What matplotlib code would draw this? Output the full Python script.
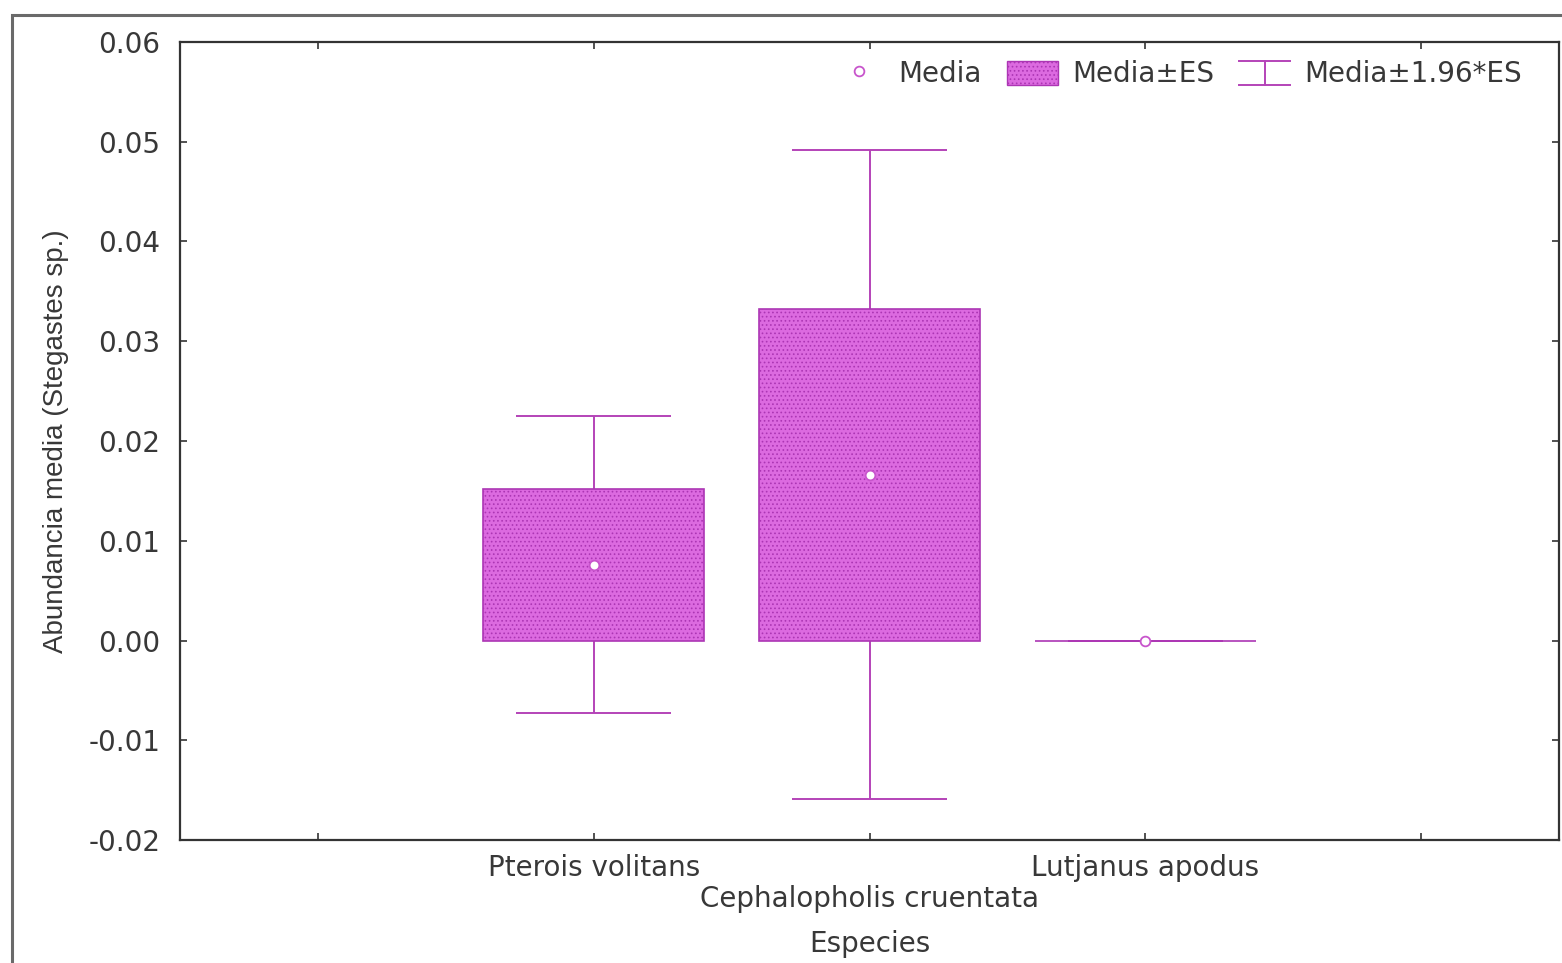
import matplotlib
matplotlib.use("Agg")
import matplotlib.pyplot as plt
import numpy as np
from matplotlib.patches import Rectangle, Patch
from matplotlib.lines import Line2D
from matplotlib.legend_handler import HandlerBase

# Species and their mean abundance with standard error
species = ["Pterois volitans", "Cephalopholis cruentata", "Lutjanus apodus"]
means = [0.0076, 0.0166, 0.0]
se = [0.0076, 0.0166, 0.0]
z_factor = 1.96

y_ticks = [-0.02, -0.01, 0.00, 0.01, 0.02, 0.03, 0.04, 0.05, 0.06]
y_ticklabels = ["-0.02", "-0.01", "0.00", "0.01", "0.02", "0.03", "0.04", "0.05", "0.06"]

TEXT = "#383838"
FILL = "#dc6ae0"
EDGE = "#ac36b4"
WHISK = "#b443b8"
MARK = "#c855cc"

plt.rcParams["font.family"] = ["DejaVu Sans"]
plt.rcParams["hatch.color"] = "#f6caf6"
plt.rcParams["hatch.linewidth"] = 0.7


class IBeamHandler(HandlerBase):
    def create_artists(self, legend, orig_handle, xdescent, ydescent,
                       width, height, fontsize, trans):
        x0, x1 = -xdescent, -xdescent + width
        y0, y1 = -ydescent, -ydescent + height
        xm = 0.5 * (x0 + x1)
        arts = []
        for xs, ys in (([x0, x1], [y1, y1]), ([xm, xm], [y0, y1]), ([x0, x1], [y0, y0])):
            ln = Line2D(xs, ys, color=WHISK, lw=1.4)
            ln.set_transform(trans)
            arts.append(ln)
        return arts


fig = plt.figure(figsize=(15.62, 9.63), dpi=100)
ax = fig.add_axes([180 / 1562, 1 - 840 / 963, (1559 - 180) / 1562, (840 - 42) / 963])

x = np.arange(1, len(species) + 1)
m = np.array(means)
s = np.array(se)
lo = m - z_factor * s
hi = m + z_factor * s

# whiskers (mean ± 1.96*SE)
ax.vlines(x, lo, hi, color=WHISK, lw=1.4, zorder=2)
cap = 0.28
ax.hlines(lo, x - cap, x + cap, color=WHISK, lw=1.4, zorder=2)
ax.hlines(hi, x - cap, x + cap, color=WHISK, lw=1.4, zorder=2)

# boxes (mean ± SE)
ax.bar(x, 2 * s, bottom=m - s, width=0.8, facecolor=FILL, edgecolor=EDGE,
       linewidth=1.2, hatch="....", zorder=3)

# means
ax.plot(x, m, linestyle="none", marker="o", markersize=7, markerfacecolor="white",
        markeredgecolor=MARK, markeredgewidth=1.3, zorder=4)

ax.set_xlim(-0.5, 4.5)
ax.set_ylim(-0.02, 0.06)
ax.set_yticks(y_ticks)
ax.set_yticklabels(y_ticklabels)
ax.set_xticks(np.arange(0, 5))
xlabels = [""] + [lab if i % 2 == 0 else "\n" + lab for i, lab in enumerate(species)] + [""]
ax.set_xticklabels(xlabels, linespacing=1.15)

ax.tick_params(axis="both", direction="in", length=5, width=1.2, color="#333333",
               labelsize=20, labelcolor=TEXT, top=True, right=True)
ax.tick_params(axis="y", pad=14)
ax.tick_params(axis="x", pad=10)
for sp in ax.spines.values():
    sp.set_color("#333333")
    sp.set_linewidth(1.6)

ax.set_xlabel("Especies", fontsize=20, color=TEXT, labelpad=12)
ax.set_ylabel("Abundancia media (Stegastes sp.)", fontsize=20, color=TEXT,
              family=["Liberation Sans"], labelpad=14)

handles = [
    Line2D([], [], linestyle="none", marker="o", markersize=7, markerfacecolor="white",
           markeredgecolor=MARK, markeredgewidth=1.3),
    Patch(facecolor=FILL, edgecolor=EDGE, hatch="....", linewidth=1.0),
    "ibeam",
]
labels = ["Media", "Media±ES", "Media±1.96*ES"]
ax.legend(handles, labels, loc="upper right", bbox_to_anchor=(1 - 15 / 1379, 1 + 4 / 798),
          ncol=3, frameon=False, fontsize=20,
          labelcolor=TEXT, handlelength=1.85, handleheight=0.95, handletextpad=0.5,
          columnspacing=0.9, borderaxespad=0.4,
          handler_map={str: IBeamHandler()})

# outer frame around the graph window
fig.patches.append(Rectangle((12 / 1562, -0.1), 1.2, 1.1 - 15 / 963,
                             transform=fig.transFigure, fill=False,
                             edgecolor="#6a6a6a", linewidth=2.2, zorder=0))

fig.savefig("out.png", dpi=100)
